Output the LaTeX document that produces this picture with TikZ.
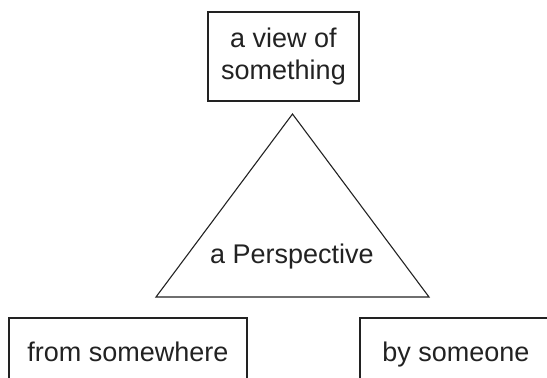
\documentclass[tikz,border=0pt]{standalone}
\usepackage{fontspec}
\setmainfont{Liberation Sans}
\usepackage{xcolor}
\usepackage{tikz}
\usetikzlibrary{calc, positioning}

\definecolor{inkgray}{HTML}{222222}

\begin{document}
\begin{tikzpicture}[x=1pt, y=-1pt,
    every node/.style={text=inkgray, font=\fontsize{27}{32}\selectfont},
    box/.style={draw=inkgray, line width=1.3pt, align=center, inner sep=0pt},
    lowbox/.style={box, minimum height=64pt, text height=24pt, text depth=2pt}]
    % Khung ảnh
    \useasboundingbox (0,0) rectangle (547,378);
    \clip (0,0) rectangle (547,378);
    % Hộp trên
    \node[box, minimum width=151pt, minimum height=89pt] (view) at (283.5,56.5)
        {a view of\\something};
    % Tam giác
    \coordinate (apex) at (292.5,114);
    \coordinate (baseL) at (156,297);
    \coordinate (baseR) at (429,297);
    \draw[inkgray, line width=1.1pt, line join=miter] (apex) -- (baseR) -- (baseL) -- cycle;
    \node (persp) at (292,257) {a Perspective};
    % Hai hộp dưới
    \node[lowbox, minimum width=238pt] (where) at (128,350) {from somewhere};
    \node[lowbox, minimum width=192pt] (who) at (456,350) {by someone};
\end{tikzpicture}
\end{document}
